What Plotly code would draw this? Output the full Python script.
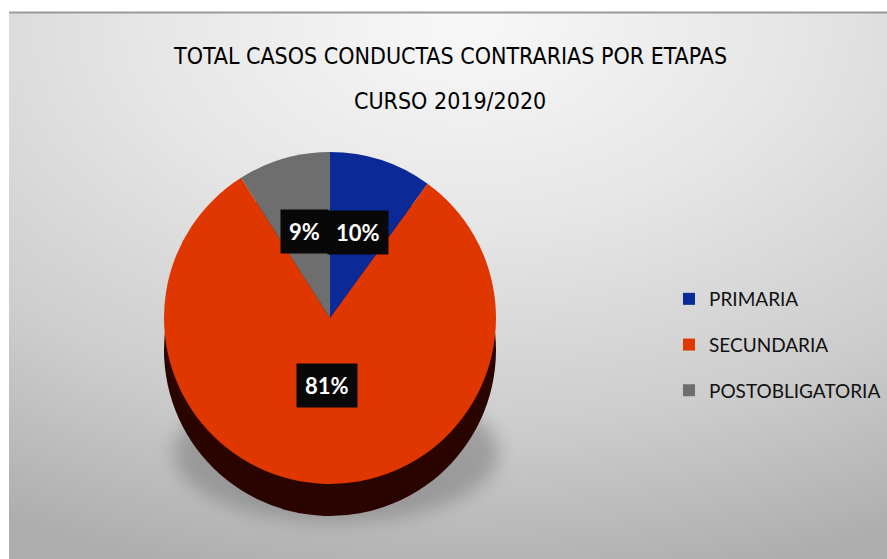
import math
import base64
import plotly.graph_objects as go

# ---- data ----
categories = ["PRIMARIA", "SECUNDARIA", "POSTOBLIGATORIA"]
percentages = [10, 81, 9]
title_lines = ["TOTAL CASOS CONDUCTAS CONTRARIAS POR ETAPAS", "CURSO 2019/2020"]

# ---- styles ----
W, H = 887, 559
top_colors = ["#0B2A97", "#E03600", "#6E6E6E"]
side_colors = ["#06154F", "#2A0500", "#2E2E2E"]

# pie geometry (pixels)
cx, cy, r = 330, 318, 166
depth = 32

def dom(cxp, cyp, rad):
    return dict(x=[(cxp - rad) / W, (cxp + rad) / W],
                y=[1 - (cyp + rad) / H, 1 - (cyp - rad) / H])

# background svg (gradient + soft shadow under the pie)
bw, bh = W - 9, H - 13
svg = f'''<svg xmlns="http://www.w3.org/2000/svg" width="{bw}" height="{bh}" viewBox="0 0 {bw} {bh}">
<defs>
<radialGradient id="g" cx="0.52" cy="0.02" r="1.05" gradientUnits="objectBoundingBox">
<stop offset="0" stop-color="#f8f8f8"/>
<stop offset="0.35" stop-color="#e6e6e6"/>
<stop offset="0.7" stop-color="#cdcdcd"/>
<stop offset="1" stop-color="#adadad"/>
</radialGradient>
<filter id="b" x="-50%" y="-50%" width="200%" height="200%"><feGaussianBlur stdDeviation="9"/></filter>
</defs>
<rect x="0" y="0" width="{bw}" height="{bh}" fill="url(#g)"/>
<ellipse cx="{cx - 9 + 6}" cy="{cy - 13 + depth + r*0.62}" rx="{r*0.98}" ry="{r*0.42}" fill="#7a7a7a" opacity="0.55" filter="url(#b)"/>
</svg>'''
svg_uri = "data:image/svg+xml;base64," + base64.b64encode(svg.encode()).decode()

fig = go.Figure()

# side (depth) of the pie
fig.add_trace(go.Pie(
    labels=categories, values=percentages, sort=False, direction="clockwise",
    rotation=0, domain=dom(cx, cy + depth, r),
    marker=dict(colors=side_colors, line=dict(width=0)),
    textinfo="none", hoverinfo="skip", showlegend=False,
))
# top face
fig.add_trace(go.Pie(
    labels=categories, values=percentages, sort=False, direction="clockwise",
    rotation=0, domain=dom(cx, cy, r),
    marker=dict(colors=top_colors, line=dict(width=0)),
    textinfo="none", showlegend=False,
))

# legend entries
for cat, col in zip(categories, top_colors):
    fig.add_trace(go.Scatter(
        x=[None], y=[None], mode="markers", name=cat, legendgroup=cat,
        marker=dict(symbol="square", size=12, color=col),
    ))

# percentage labels in black boxes, placed from slice angles
total = sum(percentages)
cum = 0
annotations = []
d = 0.54 * r
for cat, v in zip(categories, percentages):
    mid = (cum + v / 2) / total * 2 * math.pi
    cum += v
    px = cx + d * math.sin(mid)
    py = cy - d * math.cos(mid)
    annotations.append(dict(
        x=px / W, y=1 - py / H, xref="paper", yref="paper",
        text=f"{round(v / total * 100)}%", showarrow=False,
        font=dict(family="Lato, Open Sans, sans-serif", size=22, color="white", weight="bold"),
        bgcolor="#080808", borderpad=8,
    ))

# title lines
title_font = dict(family="Liberation Sans Narrow, DejaVu Sans Condensed, Arial Narrow, sans-serif",
                  size=23, color="#000000")
for line, ypix in zip(title_lines, [56, 101]):
    annotations.append(dict(
        x=450 / W, y=1 - ypix / H, xref="paper", yref="paper",
        xanchor="center", yanchor="middle", text=line, showarrow=False,
        font=title_font,
    ))

fig.update_layout(
    width=W, height=H,
    margin=dict(l=0, r=0, t=0, b=0, autoexpand=False),
    paper_bgcolor="white", plot_bgcolor="rgba(0,0,0,0)",
    xaxis=dict(visible=False), yaxis=dict(visible=False),
    legend=dict(
        x=669 / W, xanchor="left", y=1 - 280 / H, yanchor="top",
        font=dict(family="Lato, Noto Sans, sans-serif", size=19, color="#111111"),
        bgcolor="rgba(0,0,0,0)", tracegroupgap=18,
    ),
    images=[dict(
        source=svg_uri, xref="paper", yref="paper",
        x=9 / W, y=1 - 13 / H, sizex=bw / W, sizey=bh / H,
        xanchor="left", yanchor="top", sizing="stretch", layer="below",
    )],
    shapes=[dict(type="line", xref="paper", yref="paper",
                 x0=9 / W, x1=1, y0=1 - 12.5 / H, y1=1 - 12.5 / H,
                 line=dict(color="#9a9a9a", width=2))],
    annotations=annotations,
)

fig.write_html("out.html", config={"displayModeBar": False},
               post_script="document.body.style.margin='0';")
